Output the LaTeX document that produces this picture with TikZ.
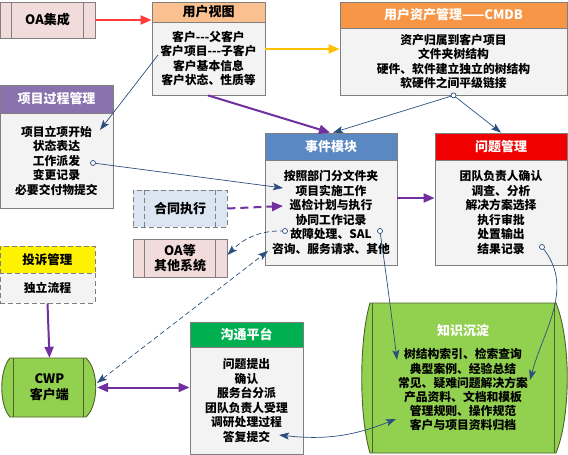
\documentclass[tikz,border=0pt]{standalone}
\usepackage{fontspec}
\setmainfont{Noto Sans CJK SC}
\usetikzlibrary{arrows.meta,calc}
\definecolor{bd}{HTML}{7F7F7F}
\definecolor{bodyc}{HTML}{F3F3F3}
\definecolor{pinkc}{HTML}{F2DCDB}
\definecolor{peach}{HTML}{FAC090}
\definecolor{orangeh}{HTML}{F79646}
\definecolor{purph}{HTML}{8A72AE}
\definecolor{blueh}{HTML}{5A88C2}
\definecolor{redh}{HTML}{F00000}
\definecolor{greenh}{HTML}{00B050}
\definecolor{bluegray}{HTML}{DCE6F2}
\definecolor{cwpg}{HTML}{92D050}
\definecolor{darkg}{HTML}{4F6228}
\definecolor{arrblue}{HTML}{2B4F7E}
\definecolor{purpa}{HTML}{7030A0}
\definecolor{reda}{HTML}{FF3B3B}
\definecolor{yela}{HTML}{FFC000}
\begin{document}
\begin{tikzpicture}[x=1pt,y=-1pt,
  box/.style={draw=bd,line width=0.8pt,inner sep=0pt,align=center,font=\fontsize{11.8}{14.5}\selectfont\bfseries},
  hdr/.style={box,font=\fontsize{13}{15}\selectfont\bfseries,text=white},
  bodybox/.style={box,fill=bodyc},
  dbox/.style={box,dashed,dash pattern=on 5pt off 3pt},
  thick arrow/.style={line width=2pt,-{Triangle[length=11pt,width=9pt]}},
  thin arrow/.style={arrblue,line width=0.7pt,-{Stealth[length=10pt,width=7pt,inset=2pt]}},
  port/.style={circle,draw=arrblue,fill=white,line width=0.7pt,inner sep=0pt,minimum size=5pt},
]
\useasboundingbox (0,0) rectangle (568,455);

% OA integration
\node[hdr,text=black,fill=pinkc,minimum width=95,minimum height=36] (oa) at (47.5,20) {OA集成};
\draw[bd,line width=0.8pt] ([xshift=12]oa.north west) -- ([xshift=12]oa.south west)
  ([xshift=-12]oa.north east) -- ([xshift=-12]oa.south east);

% user view
\node[hdr,text=black,fill=peach,minimum width=113,minimum height=20] (uvh) at (208.5,12) {用户视图};
\node[bodybox,minimum width=113,minimum height=73] (uvb) at (208.5,58.5)
  {客户{-}{-}{-}父客户\\客户项目{-}{-}{-}子客户\\客户基本信息\\客户状态、性质等};

% CMDB
\node[hdr,fill=orangeh,minimum width=227,minimum height=26] (cmh) at (453.5,15) {用户资产管理——CMDB};
\node[bodybox,minimum width=227,minimum height=67] (cmb) at (453.5,61.5)
  {资产归属到客户项目\\文件夹树结构\\硬件、软件建立独立的树结构\\软硬件之间平级链接};

% project process
\node[hdr,fill=purph,minimum width=113,minimum height=28] (pph) at (56.5,99) {项目过程管理};
\node[bodybox,minimum width=113,minimum height=95] (ppb) at (56.5,160.5)
  {项目立项开始\\状态表达\\工作派发\\变更记录\\必要交付物提交};

% event module
\node[hdr,fill=blueh,minimum width=132,minimum height=27] (evh) at (331,146.5) {事件模块};
\node[bodybox,minimum width=132,minimum height=105] (evb) at (331,212.5)
  {按照部门分文件夹\\项目实施工作\\巡检计划与执行\\协同工作记录\\故障处理、SAL\\咨询、服务请求、其他};

% problem management
\node[hdr,fill=redh,minimum width=132,minimum height=27] (pmh) at (501,146.5) {问题管理};
\node[bodybox,minimum width=132,minimum height=105] (pmb) at (501,212.5)
  {团队负责人确认\\调查、分析\\解决方案选择\\执行审批\\处置输出\\结果记录};

% contract
\node[dbox,font=\fontsize{13}{15}\selectfont\bfseries,fill=bluegray,minimum width=94,minimum height=37] (ht) at (180,208.5) {合同执行};
\draw[bd,line width=0.8pt,dash pattern=on 5pt off 3pt] ([xshift=12]ht.north west) -- ([xshift=12]ht.south west)
  ([xshift=-12]ht.north east) -- ([xshift=-12]ht.south east);

% OA other
\node[box,font=\fontsize{13}{15}\selectfont\bfseries,fill=pinkc,minimum width=94,minimum height=38] (oao) at (180,258) {OA等\\其他系统};
\draw[bd,line width=0.8pt] ([xshift=12]oao.north west) -- ([xshift=12]oao.south west)
  ([xshift=-12]oao.north east) -- ([xshift=-12]oao.south east);

% complaint
\node[dbox,font=\fontsize{12.5}{15}\selectfont\bfseries,fill=yellow,minimum width=95,minimum height=27] (tsh) at (47.5,259.5) {投诉管理};
\node[dbox,fill=bodyc,minimum width=95,minimum height=30] (tsb) at (47.5,288) {独立流程};

% CWP
\draw[darkg,line width=0.9pt,fill=cwpg] (10,358) -- (86,358) .. controls (99,370) and (99,405) .. (86,417)
  -- (10,417) .. controls (-1,405) and (-1,370) .. (10,358) -- cycle;
\draw[darkg,line width=0.9pt] (13,358) -- (13,417) (83,358) -- (83,417);
\node[inner sep=0pt,minimum width=95,minimum height=59,align=center,font=\fontsize{13}{16}\selectfont\bfseries] (cwp) at (49.5,387.5) {CWP\\客户端};

% communication platform
\node[hdr,fill=greenh,minimum width=113,minimum height=25] (gth) at (246.5,334.5) {沟通平台};
\node[bodybox,minimum width=113,minimum height=107] (gtb) at (246.5,400.5)
  {问题提出\\确认\\服务台分派\\团队负责人受理\\调研处理过程\\答复提交};

% knowledge
\draw[darkg,line width=0.9pt,fill=cwpg] (370,303) -- (556,303) .. controls (571,340) and (571,416) .. (556,453)
  -- (370,453) .. controls (359,416) and (359,340) .. (370,303) -- cycle;
\draw[darkg,line width=0.9pt] (372.5,303) -- (372.5,453) (554.5,303) -- (554.5,453);
\node[font=\fontsize{13}{15}\selectfont\bfseries,text=white,inner sep=0pt] (knt) at (463,331) {知识沉淀};
\node[inner sep=0pt,align=center,font=\fontsize{11.8}{14.2}\selectfont\bfseries] (kn) at (463,390)
  {树结构索引、检索查询\\典型案例、经验总结\\常见、疑难问题解决方案\\产品资料、文档和模板\\管理规则、操作规范\\客户与项目资料归档};

% ---- connectors ----
\draw[reda,thick arrow] (oa.east) -- (oa.east -| uvh.west);
\draw[yela,thick arrow] ([yshift=9.5]uvb.east) -- ([yshift=12.5]cmb.west);
\draw[purpa,thick arrow] ([xshift=-0.5]uvb.south) -- ([xshift=-1]evh.north);

\coordinate (uvP) at (158,55);
\coordinate (ppIn) at (100,130);
\draw[thin arrow] (uvP) -- (ppIn);

\draw[thin arrow] (cmb.south) -- ([xshift=2]evh.north);
\draw[thin arrow] (cmb.south) -- (pmh.north);
\node[port] (cmP) at (cmb.south) {};

\coordinate (ppP) at (93,163);
\coordinate (evIn1) at (283,188);
\draw[thin arrow] (ppP) -- (evIn1);
\node[port] (ppPc) at (ppP) {};

\coordinate (evIn2) at (283,206);
\draw[purpa,thick arrow,dash pattern=on 8pt off 5pt] (ht.east) -- (evIn2);

\draw[purpa,thick arrow] ([yshift=14.5]evb.east) -- ([yshift=14.5]pmb.west);

\coordinate (evP1) at (285,231);
\draw[thin arrow,dashed,dash pattern=on 5pt off 3pt] (evP1) to[out=178,in=45] ([yshift=3]oao.east);
\node[port] (evP1c) at (evP1) {};

\coordinate (evIn3) at (268,251);
\coordinate (cwpP) at (97,383);
\draw[thin arrow,{Stealth[length=10pt,width=7pt,inset=2pt]}-{Stealth[length=10pt,width=7pt,inset=2pt]},dash pattern=on 5pt off 3pt] (cwpP) -- (evIn3);

\draw[purpa,thick arrow] (tsb.south) -- (cwp.north);
\draw[purpa,line width=2pt,{Triangle[length=11pt,width=9pt]}-{Triangle[length=11pt,width=9pt]}] (cwp.east) -- (cwp.east -| gtb.west);

\coordinate (evP2) at (380,231);
\coordinate (knIn1) at (397,360);
\draw[thin arrow] (evP2) to[out=-82,in=97] (knIn1);
\node[port] (evP2c) at (evP2) {};

\coordinate (pmP) at (542,247);
\coordinate (knIn2) at (530,380);
\draw[thin arrow] (pmP) to[out=-50,in=75] (knIn2);
\node[port] (pmPc) at (pmP) {};

\coordinate (gtP) at (279,435);
\coordinate (knIn3) at (396,419);
\draw[thin arrow,{Stealth[length=10pt,width=7pt,inset=2pt]}-{Stealth[length=10pt,width=7pt,inset=2pt]}] (gtP) to[bend right=14] (knIn3);
\end{tikzpicture}
\end{document}
